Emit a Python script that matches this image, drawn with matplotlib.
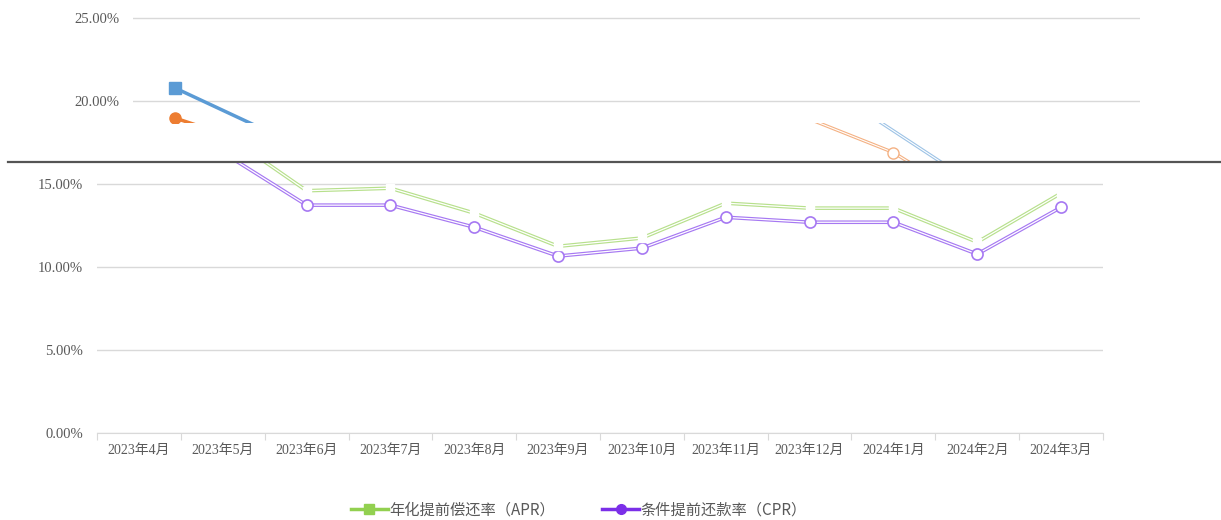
import matplotlib.pyplot as plt
from matplotlib.lines import Line2D
import numpy as np

plt.rcParams['font.family'] = ['Liberation Serif', 'Noto Sans CJK SC']

# data
months = ["2023年4月", "2023年5月", "2023年6月", "2023年7月", "2023年8月", "2023年9月",
          "2023年10月", "2023年11月", "2023年12月", "2024年1月", "2024年2月", "2024年3月"]
apr = [20.8, 18.1, 14.6, 14.75, 13.25, 11.25, 11.75, 13.85, 13.55, 13.55, 11.5, 14.45]
cpr = [19.0, 16.9, 13.73, 13.73, 12.4, 10.66, 11.14, 13.0, 12.7, 12.7, 10.78, 13.6]

# older layer showing through at the top
top_blue = [20.78, 18.42] + [np.nan] * 10
top_orange = [18.97, 17.3] + [np.nan] * 10
band_orange = [np.nan] * 8 + [18.9, 16.9, 13.8, np.nan]
band_blue = [np.nan] * 8 + [21.5, 18.2, 14.9, np.nan]

yticks = [0, 5, 10, 15]
GREEN = "#92d050"
PURPLE = "#7b2fe8"
GRID = "#d9d9d9"
TXT = "#595959"

W, H = 1221, 520
fig = plt.figure(figsize=(W / 100, H / 100), dpi=100)


def px_axes(x0, y0, x1, y1, **kw):
    return fig.add_axes([x0 / W, 1 - y1 / H, (x1 - x0) / W, (y1 - y0) / H], **kw)


x = np.arange(len(months))

# main chart (only the part below the separator is visible)
ax = px_axes(97, 162, 1103, 433)
ax.set_xlim(-0.5, 11.5)
ax.set_ylim(0, 16.33)
for vals, col in [(apr, "#b7e08c"), (cpr, "#a678f2")]:
    ax.plot(x, vals, color=col, lw=2.6, zorder=3)
    ax.plot(x, vals, color="white", lw=0.9, zorder=4)
ax.plot(x, cpr, ls="none", marker="o", ms=8, mfc="white", mec="#a678f2", mew=1.2, zorder=5)
ax.plot(x, apr, ls="none", marker="s", ms=6, mfc="white", mec="white", zorder=5)
ax.set_yticks(yticks)
ax.set_yticklabels([f"{v:.2f}%" for v in yticks], color=TXT, fontsize=10.5)
ax.grid(axis="y", color=GRID, lw=1)
ax.set_axisbelow(True)
ax.set_xticks(np.arange(-0.5, 12, 1))
ax.set_xticklabels([])
ax.set_xticks(x, minor=True)
ax.set_xticklabels(months, minor=True, color=TXT, fontsize=10)
ax.tick_params(axis="x", which="major", length=5, color=GRID)
ax.tick_params(axis="x", which="minor", length=0, pad=8)
ax.tick_params(axis="y", length=0, pad=10)
for s in ["top", "right", "left"]:
    ax.spines[s].set_visible(False)
ax.spines["bottom"].set_color(GRID)

# upper strip (shifted copy)
top = px_axes(133, 0, 1140, 123)
top.patch.set_alpha(0)
top.set_xlim(-0.5, 11.5)
top.set_ylim(18.67, 26.08)
top.plot(x, top_blue, color="#5b9bd5", lw=2.5, marker="s", ms=8, markevery=[0], zorder=3)
top.plot(x, top_orange, color="#ed7d31", lw=2.5, marker="o", ms=8, markevery=[0], zorder=3)
top.set_yticks([20, 25])
top.set_yticklabels(["20.00%", "25.00%"], color=TXT, fontsize=10.5)
top.grid(axis="y", color=GRID, lw=1)
top.set_axisbelow(True)
top.set_xticks([])
top.tick_params(axis="y", length=0, pad=10)
for s in top.spines.values():
    s.set_visible(False)

# band between strip and main chart
band = px_axes(97, 123, 1103, 162)
band.patch.set_alpha(0)
band.set_xlim(-0.5, 11.5)
band.set_ylim(16.33, 18.67)
band.plot(x, band_orange, color="#f4b183", lw=2.4, zorder=3)
band.plot(x, band_orange, color="white", lw=0.8, zorder=4)
band.plot(x[9], band_orange[9], marker="o", ms=8, mfc="white", mec="#f4b183", zorder=5)
band.plot(x, band_blue, color="#9dc3e6", lw=2.4, zorder=3)
band.plot(x, band_blue, color="white", lw=0.8, zorder=4)
band.axis("off")

# dark separator
fig.add_artist(Line2D([8 / W, 1], [1 - 162 / H] * 2, color="#555555", lw=1.6, zorder=3))

# legend
handles = [Line2D([], [], color=GREEN, lw=2.5, marker="s", ms=7),
           Line2D([], [], color=PURPLE, lw=2.5, marker="o", ms=7)]
fig.legend(handles, ["年化提前偿还率（APR）", "条件提前还款率（CPR）"], loc="center",
           bbox_to_anchor=(579 / W, 1 - 510 / H), ncol=2, frameon=False,
           prop={"family": ["Noto Sans CJK SC"], "size": 11}, labelcolor=TXT,
           handlelength=2.4, handletextpad=0.1, columnspacing=3.1)

fig.savefig("out.png", dpi=100)
